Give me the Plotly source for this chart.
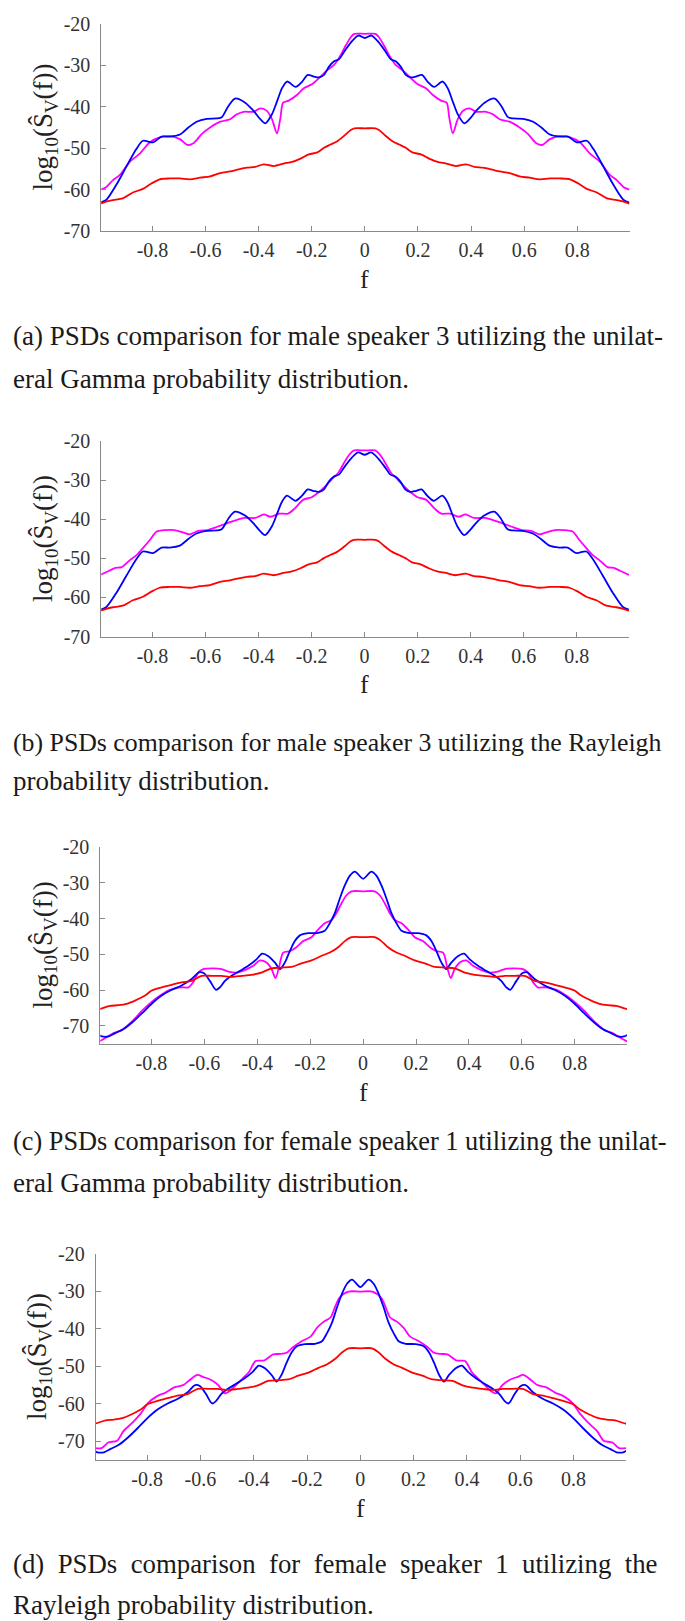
import plotly.graph_objects as go

W, H = 685, 1621

# ---------------- data (positive-frequency half; PSDs are symmetric in f) ----------------
f_blue_ab = [0, 0.025, 0.053, 0.078, 0.097, 0.116, 0.135, 0.154, 0.173, 0.192, 0.215, 0.236, 0.261, 0.293,
             0.312, 0.331, 0.350, 0.375, 0.394, 0.419, 0.451, 0.489, 0.514, 0.539, 0.558, 0.596, 0.634, 0.665,
             0.697, 0.735, 0.766, 0.798, 0.836, 0.861, 0.899, 0.937, 0.975, 0.997]
v_blue_ab = [-23.4, -22.8, -24.5, -26.7, -28.5, -29.0, -30.3, -32.3, -32.9, -32.7, -32.3, -33.9, -35.2, -33.9,
             -35.5, -38.7, -41.8, -44.0, -43.0, -41.0, -39.0, -38.0, -39.8, -42.5, -42.8, -42.9, -43.6, -45.0,
             -46.7, -47.2, -47.2, -48.6, -48.2, -50.2, -54.5, -58.9, -62.5, -63.1]

f_red_ab = [0, 0.04, 0.053, 0.078, 0.104, 0.129, 0.154, 0.179, 0.211, 0.242, 0.274, 0.306, 0.343, 0.381, 0.413,
            0.444, 0.475, 0.508, 0.545, 0.583, 0.621, 0.659, 0.697, 0.735, 0.773, 0.804, 0.836, 0.874, 0.912,
            0.949, 0.975, 0.997]
v_red_ab = [-45.2, -45.2, -45.6, -47.0, -48.3, -49.1, -49.9, -51.0, -51.5, -52.5, -53.3, -53.7, -54.3, -53.9, -54.5,
            -54.7, -55.1, -55.6, -56.0, -56.8, -57.1, -57.5, -57.3, -57.3, -57.5, -58.5, -59.8, -60.7, -62.1,
            -62.5, -62.9, -63.4]

f_mag_a = [0, 0.04, 0.053, 0.072, 0.091, 0.116, 0.141, 0.167, 0.198, 0.230, 0.255, 0.287, 0.308, 0.318, 0.331,
           0.350, 0.369, 0.394, 0.419, 0.457, 0.482, 0.508, 0.545, 0.583, 0.615, 0.646, 0.669, 0.697, 0.735,
           0.773, 0.811, 0.848, 0.886, 0.924, 0.949, 0.975, 0.997]
v_mag_a = [-22.4, -22.4, -23.2, -25.2, -27.5, -29.9, -31.1, -32.7, -34.5, -35.5, -37.1, -38.5, -39.0, -42.6, -46.4,
           -43.0, -41.0, -40.4, -41.2, -41.2, -41.8, -43.0, -43.6, -45.0, -46.6, -48.8, -49.2, -47.8, -47.1,
           -47.4, -48.6, -51.3, -53.3, -56.5, -57.7, -59.4, -60.0]

f_mag_b = [0, 0.04, 0.058, 0.078, 0.099, 0.124, 0.149, 0.173, 0.200, 0.231, 0.264, 0.289, 0.322, 0.355, 0.380,
           0.413, 0.454, 0.487, 0.520, 0.553, 0.594, 0.627, 0.660, 0.685, 0.718, 0.750, 0.784, 0.809, 0.833,
           0.858, 0.883, 0.916, 0.940, 0.965, 0.997]
v_mag_b = [-22.3, -22.3, -23.4, -25.5, -28.0, -29.7, -31.5, -33.0, -34.3, -34.9, -37.2, -38.5, -38.5, -39.3, -38.7,
           -39.6, -39.6, -40.2, -41.0, -41.8, -42.7, -42.9, -43.8, -43.3, -42.7, -42.7, -43.1, -45.2, -47.1,
           -49.0, -50.3, -52.2, -52.4, -53.2, -54.2]

f_blue_cd = [0, 0.031, 0.050, 0.069, 0.088, 0.107, 0.126, 0.145, 0.170, 0.208, 0.239, 0.258, 0.277, 0.296, 0.314,
             0.333, 0.358, 0.381, 0.403, 0.434, 0.465, 0.497, 0.522, 0.541, 0.556, 0.579, 0.601, 0.620, 0.648,
             0.686, 0.723, 0.761, 0.799, 0.836, 0.874, 0.906, 0.937, 0.962, 0.987, 0.997]
v_blue_cd = [-28.9, -26.9, -28.0, -30.7, -34.4, -38.5, -41.3, -43.4, -44.0, -44.1, -44.7, -46.3, -49.1, -52.3, -54.1,
             -52.3, -50.5, -49.8, -51.4, -53.2, -54.6, -56.0, -57.4, -59.2, -59.9, -57.4, -55.3, -55.0, -56.9,
             -58.7, -59.9, -61.5, -63.8, -66.5, -69.1, -70.9, -72.0, -72.9, -72.9, -72.5]

f_red_cd = [0, 0.044, 0.069, 0.094, 0.126, 0.157, 0.195, 0.233, 0.270, 0.308, 0.346, 0.384, 0.421, 0.459, 0.497,
            0.535, 0.572, 0.610, 0.648, 0.686, 0.723, 0.761, 0.799, 0.824, 0.862, 0.893, 0.925, 0.956, 0.987, 0.997]
v_red_cd = [-45.2, -45.2, -46.3, -48.0, -49.5, -50.4, -51.7, -52.5, -53.5, -53.7, -53.9, -55.1, -55.7, -56.0, -56.3,
            -56.0, -56.0, -56.0, -57.4, -57.8, -58.5, -59.2, -60.1, -61.5, -62.9, -63.8, -64.2, -64.4, -65.1, -65.3]

f_mag_c = [0, 0.044, 0.063, 0.082, 0.101, 0.119, 0.145, 0.170, 0.195, 0.226, 0.252, 0.277, 0.302, 0.318, 0.331,
           0.346, 0.365, 0.390, 0.415, 0.447, 0.478, 0.509, 0.535, 0.566, 0.604, 0.623, 0.642, 0.660, 0.692,
           0.730, 0.767, 0.799, 0.836, 0.874, 0.912, 0.943, 0.975, 0.997]
v_mag_c = [-32.4, -32.4, -33.5, -35.8, -38.5, -40.4, -41.3, -43.1, -45.2, -46.3, -48.0, -49.1, -49.5, -53.7, -56.6,
           -54.1, -52.3, -51.7, -53.2, -54.4, -55.1, -54.8, -54.1, -53.9, -54.1, -55.1, -57.8, -59.2, -59.2,
           -59.9, -61.5, -63.3, -65.8, -68.8, -71.1, -72.0, -73.4, -74.3]

f_mag_d = [0, 0.045, 0.079, 0.096, 0.112, 0.137, 0.162, 0.187, 0.220, 0.253, 0.277, 0.302, 0.327, 0.360, 0.393,
           0.418, 0.441, 0.467, 0.492, 0.509, 0.533, 0.558, 0.591, 0.611, 0.641, 0.665, 0.698, 0.731, 0.764,
           0.797, 0.822, 0.855, 0.888, 0.913, 0.946, 0.971, 0.997]
v_mag_d = [-30.1, -30.1, -31.8, -34.4, -37.0, -38.1, -39.7, -42.1, -43.3, -44.9, -46.4, -46.7, -46.8, -48.4, -48.6,
           -51.5, -53.2, -55.0, -56.7, -57.2, -55.0, -53.7, -52.8, -52.3, -53.7, -55.0, -55.6, -57.0, -58.0,
           -59.8, -62.4, -65.0, -67.2, -69.8, -70.3, -71.8, -71.8]

x_tickvals = [-0.8, -0.6, -0.4, -0.2, 0, 0.2, 0.4, 0.6, 0.8]
x_ticktext = ["-0.8", "-0.6", "-0.4", "-0.2", "0", "0.2", "0.4", "0.6", "0.8"]
y_tickvals = [-70, -60, -50, -40, -30, -20]
y_ticktext = ["-70", "-60", "-50", "-40", "-30", "-20"]

NB2 = "\u00a0\u00a0"
captions = [
    ("(a) PSDs comparison for male speaker 3 utilizing the unilat-", "eral Gamma probability distribution."),
    ("(b) PSDs comparison for male speaker 3 utilizing the Rayleigh", "probability distribution."),
    ("(c) PSDs comparison for female speaker 1 utilizing the unilat-", "eral Gamma probability distribution."),
    (NB2.join(["(d)", "PSDs", "comparison", "for", "female", "speaker", "1", "utilizing", "the"]),
     "Rayleigh probability distribution."),
]
caption_sizes = [(27, 27), (25.8, 27), (26.3, 27), (26.8, 27)]

# ---------------- layout geometry (pixels) ----------------
panels = [
    dict(l=93.3, r=621.5, t=5.0, b=215.0, yr=[-70, -20], c1=321.7, c2=365.0, tx=37),
    dict(l=93.3, r=621.0, t=428.3, b=626.0, yr=[-70, -20], c1=733.0, c2=772.0, tx=37),
    dict(l=92.3, r=619.0, t=839.3, b=1039.0, yr=[-75, -20], c1=1138.0, c2=1180.0, tx=37),
    dict(l=87.7, r=618.0, t=1251.7, b=1461.0, yr=[-75, -20], c1=1566.7, c2=1608.0, tx=31),
]
series = [
    [(f_mag_a, v_mag_a, "#ff00ff"), (f_blue_ab, v_blue_ab, "#0000ff"), (f_red_ab, v_red_ab, "#ff0000")],
    [(f_mag_b, v_mag_b, "#ff00ff"), (f_blue_ab, v_blue_ab, "#0000ff"), (f_red_ab, v_red_ab, "#ff0000")],
    [(f_mag_c, v_mag_c, "#ff00ff"), (f_blue_cd, v_blue_cd, "#0000ff"), (f_red_cd, v_red_cd, "#ff0000")],
    [(f_mag_d, v_mag_d, "#ff00ff"), (f_blue_cd, v_blue_cd, "#0000ff"), (f_red_cd, v_red_cd, "#ff0000")],
]


def mirror(f, v):
    return [-x for x in f[:0:-1]] + list(f), list(v[:0:-1]) + list(v)


def px(x):
    return x / W


def py(y):
    return 1 - y / H


fig = go.Figure()
annotations = []
XR = [-0.993, 0.997]
serif = "Liberation Serif"
axis_col = "#8a8a8a"
tickfont = dict(family=serif, size=20, color="#333333")

for i, (p, ser) in enumerate(zip(panels, series)):
    k = "" if i == 0 else str(i + 1)
    for f, v, col in ser:
        xx, yy = mirror(f, v)
        fig.add_trace(go.Scatter(x=xx, y=yy, mode="lines", xaxis="x" + k, yaxis="y" + k,
                                 line=dict(color=col, width=1.8, shape="spline", smoothing=0.8),
                                 showlegend=False, hoverinfo="skip"))
    fig.layout["xaxis" + k] = go.layout.XAxis(
        domain=[px(p["l"]), px(p["r"])], range=XR, anchor="y" + k,
        tickmode="array", tickvals=x_tickvals, ticktext=x_ticktext, ticks="inside", ticklen=5,
        tickcolor=axis_col, showline=True, linecolor=axis_col, linewidth=1, ticklabelstandoff=1,
        showgrid=False, zeroline=False, tickfont=tickfont)
    fig.layout["yaxis" + k] = go.layout.YAxis(
        domain=[py(p["b"]), py(p["t"])], range=p["yr"], anchor="x" + k,
        tickmode="array", tickvals=y_tickvals, ticktext=y_ticktext, ticks="inside", ticklen=5,
        tickcolor=axis_col, showline=True, linecolor=axis_col, linewidth=1, ticklabelstandoff=6,
        showgrid=False, zeroline=False, tickfont=tickfont)
    x0 = p["l"] + (0 - XR[0]) / (XR[1] - XR[0]) * (p["r"] - p["l"])
    annotations.append(dict(text="f", x=px(x0), y=py(p["b"] + 49), xref="paper", yref="paper",
                            showarrow=False, xanchor="center", yanchor="middle",
                            font=dict(family=serif, size=26, color="#222222")))
    annotations.append(dict(text="log<sub>10</sub>(S\u0302<sub>V</sub>(f))", x=px(p["tx"]),
                            y=py((p["t"] + p["b"]) / 2), xref="paper", yref="paper", textangle=-90,
                            showarrow=False, xanchor="center", yanchor="middle",
                            font=dict(family=serif, size=27, color="#222222")))
    for txt, yy, sz in zip(captions[i], (p["c1"], p["c2"]), caption_sizes[i]):
        annotations.append(dict(text=txt, x=px(3), y=py(yy), xref="paper", yref="paper",
                                showarrow=False, xanchor="left", yanchor="middle",
                                font=dict(family=serif, size=sz, color="#1a1a1a")))

fig.update_layout(width=W, height=H, margin=dict(l=0, r=0, t=0, b=0),
                  font=dict(family=serif, size=20, color="#333333"),
                  paper_bgcolor="white", plot_bgcolor="white", annotations=annotations)
fig.write_html("out.html")
